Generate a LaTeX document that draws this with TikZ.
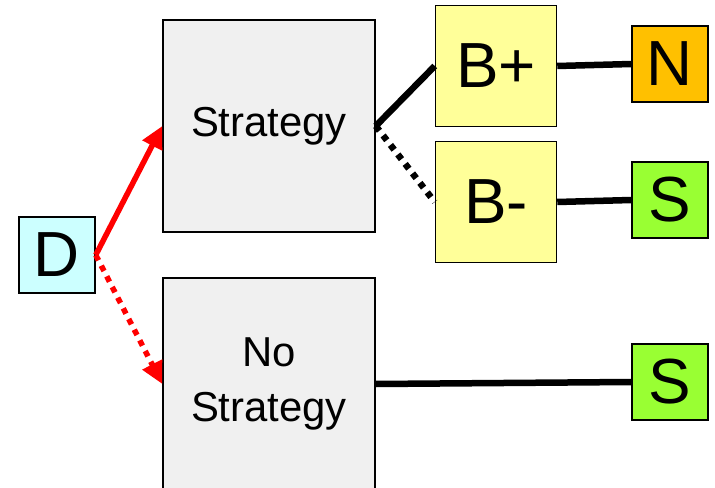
\documentclass[tikz,border=0pt]{standalone}
\usepackage{fontspec}
\setmainfont{Liberation Sans}
\usepackage{tikz}
\usetikzlibrary{shapes.geometric, arrows.meta, positioning, calc}

\definecolor{dcyan}{HTML}{CCFFFF}
\definecolor{choicegray}{HTML}{F0F0F0}
\definecolor{byellow}{HTML}{FFFF99}
\definecolor{norange}{HTML}{FFC000}
\definecolor{sgreen}{HTML}{99FF33}

\begin{document}
\begin{tikzpicture}[
    x=1bp, y=-1bp,
    box/.style={rectangle, draw, line width=1.5bp, inner sep=0pt, text centered},
    big/.style={box, font=\fontsize{64}{70}\selectfont},
    choice/.style={box, fill=choicegray, minimum width=212bp, minimum height=212bp, align=center, font=\fontsize{42}{56}\selectfont},
    branch/.style={big, fill=byellow, minimum width=121bp, minimum height=121bp},
    leaf/.style={big, minimum width=76bp, minimum height=76bp},
    arrow/.style={-{Triangle[length=22bp, width=21bp]}, red, line width=5.5bp},
    link/.style={line width=6.5bp}
]

\useasboundingbox (0,0) rectangle (715,488);

\node[leaf, fill=dcyan] (d) at (57,255) {D};

\node[choice] (strat) at (269,126) {Strategy};
\node[choice] (nostrat) at (269,384) {No\\Strategy};

\node[branch] (bplus) at (496,66) {B+};
\node[branch] (bminus) at (496,202) {B-};

\node[leaf, fill=norange] (n) at (670,64) {N};
\node[leaf, fill=sgreen] (s1) at (670,200) {S};
\node[leaf, fill=sgreen] (s2) at (670,382) {S};

\draw[arrow] (d.east) -- (strat.west);
\draw[arrow, dash pattern=on 6bp off 6bp] (d.east) -- (nostrat.west);
\draw[link] (strat.east) -- (bplus.west);
\draw[link, dash pattern=on 6bp off 6bp] (strat.east) -- (bminus.west);
\draw[link] (bplus.east) -- (n.west);
\draw[link] (bminus.east) -- (s1.west);
\draw[link] (nostrat.east) -- (s2.west);

\end{tikzpicture}
\end{document}
